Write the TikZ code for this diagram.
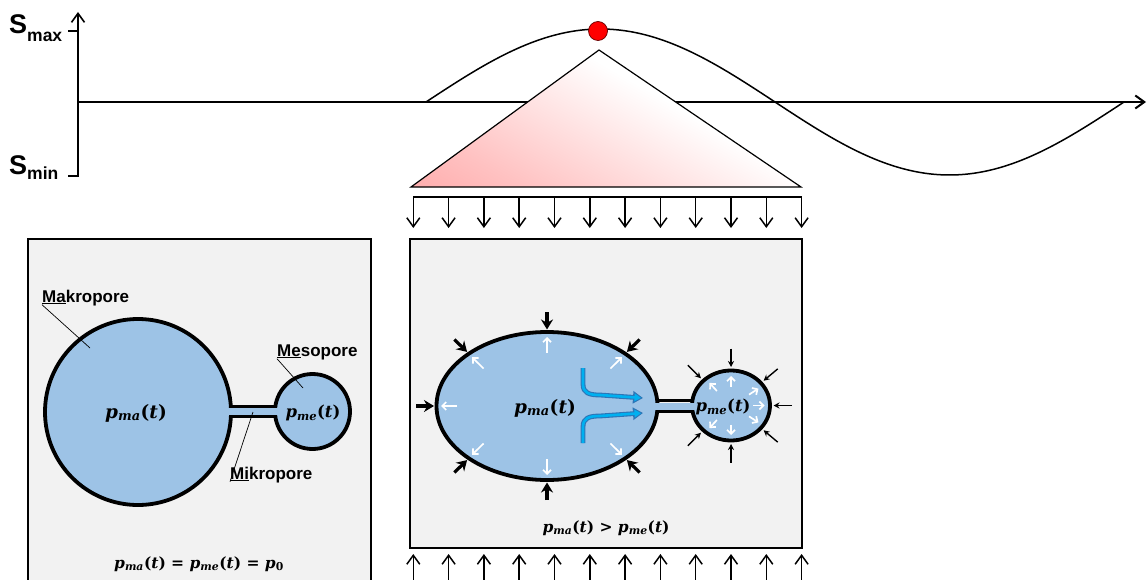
\RequirePackage{fix-cm}
\documentclass[tikz,border=0pt]{standalone}
\usepackage[no-math]{fontspec}
\setmainfont{Liberation Sans}
\newfontfamily\presfont{DejaVu Serif}
\usepackage{tikz}
\usetikzlibrary{positioning,shapes.geometric,calc}
\usetikzlibrary{arrows.meta}

\definecolor{poreblue}{HTML}{9DC3E6}
\definecolor{boxgray}{HTML}{F2F2F2}
\definecolor{flowcyan}{HTML}{00B0F0}
\definecolor{flowedge}{HTML}{2E75B6}
\pgfdeclareverticalshading{pinkfade}{100bp}{color(0bp)=(red!42); color(28bp)=(red!24); color(60bp)=(white); color(100bp)=(white)}

% pressure symbols p_x(t)
\newcommand{\pres}[2]{{\presfont\bfseries\itshape p\textsubscript{#1}\upshape(\itshape #2\upshape)}}
\newcommand{\pzero}{{\presfont\bfseries\itshape p\textsubscript{\upshape 0}}}

\begin{document}
\begin{tikzpicture}[
  x = 1pt, y = -1pt,
  box/.style = {draw, line width = 2.8pt, fill = boxgray},
  pore/.style = {draw, line width = 3.8pt, fill = poreblue, inner sep = 0pt},
  wall/.style = {line width = 3.2pt},
  tag/.style = {font = \fontsize{17}{20}\selectfont\bfseries, inner sep = 0pt},
  plabel/.style = {font = \fontsize{18.5}{22}\selectfont\presfont\bfseries, inner sep = 0pt},
  pmlabel/.style = {font = \fontsize{16.5}{20}\selectfont\presfont\bfseries, inner sep = 0pt},
  state/.style = {font = \fontsize{15.5}{19}\selectfont\presfont\bfseries, inner sep = 0pt},
  axis/.style = {line width = 1.6pt, -{Straight Barb[length = 9pt, width = 13pt]}},
  load/.style = {line width = 1.5pt, -{Straight Barb[length = 9pt, width = 13pt]}},
  squeeze/.style = {line width = 3.2pt, -{Stealth[length = 10pt, width = 12pt]}},
  pinch/.style = {line width = 1.4pt, -{Stealth[length = 6pt, width = 6pt]}},
  push/.style = {white, line width = 1.7pt, -{Straight Barb[length = 4pt, width = 8pt]}},
  flowout/.style = {line width = 4.8pt, flowedge, -{Triangle[length = 10pt, width = 12pt]}},
  flowin/.style = {line width = 2.6pt, flowcyan, shorten > = 2pt, -{Triangle[length = 6.5pt, width = 7.5pt]}},
]

  \useasboundingbox (0,0) rectangle (1147,580);
  \clip (0,0) rectangle (1147,580);

  % load signal
  \draw[axis] (78,177) -- (78,12);
  \draw[axis, line width = 2pt] (78,102) -- (1146,102);
  \draw[line width = 1.2pt] (68,31) -- (78,31);
  \draw[line width = 1.2pt] (68,176) -- (78,176);
  \node[anchor = base west, inner sep = 0pt] (smax) at (9,34)
    {\fontsize{27}{30}\selectfont\bfseries S\raisebox{-7.5pt}{\fontsize{17.5}{20}\selectfont max}};
  \node[anchor = base west, inner sep = 0pt] (smin) at (9,175)
    {\fontsize{27}{30}\selectfont\bfseries S\raisebox{-5pt}{\fontsize{17.5}{20}\selectfont min}};
  \draw[line width = 1.5pt] plot[domain = 426:1124, samples = 120, smooth]
    (\x, {102 - 73*sin((\x - 426)/698*360)});

  \shade[shading = pinkfade, shading angle = -30] (411,187) -- (599,50) -- (801,187) -- cycle;
  \draw[line width = 1.2pt] (411,187) -- (599,50) -- (801,187) -- cycle;
  \node[circle, fill = red, draw = red!40!black, line width = 0.7pt,
        minimum size = 19pt, inner sep = 0pt] (peak) at (598,31) {};

  \draw[line width = 1.5pt] (413.3,197) -- (801.7,197);
  \foreach \i in {0,...,11}
    \draw[load] ({413.3 + 35.3*\i},197) -- ({413.3 + 35.3*\i},228);
  \foreach \i in {0,...,11}
    \draw[load] ({413.3 + 35.3*\i},590) -- ({413.3 + 35.3*\i},554);

  % unloaded state
  \draw[box] (28,239) rectangle (371,620);
  \node[pore, circle, minimum size = 186pt] (makroL) at (138,412) {};
  \node[pore, circle, minimum size = 75pt] (mesoL) at (312.5,411.5) {};
  \fill[poreblue] (226,408) rectangle (280,415);
  \draw[wall] (229,406.3) -- (277,406.3);
  \draw[wall] (229,416.7) -- (277,416.7);
  \node[plabel] (pmaL) at (136,413) {\pres{ma}{t}};
  \node[pmlabel] (pmeL) at (313,413) {\pres{me}{t}};

  \node[tag, anchor = base west] (makrotag) at (42,302) {\underline{Ma}kropore};
  \node[tag, anchor = base west] (mesotag) at (277,356) {\underline{Me}sopore};
  \node[tag, anchor = base west] (mikrotag) at (230,479) {\underline{Mi}kropore};
  \coordinate (makropt) at (90,348);
  \coordinate (mesopt) at (303,388);
  \coordinate (mikropt) at (253,412);
  \draw[line width = 0.7pt] (makrotag.south west) ++(0,-1) -- (makropt);
  \draw[line width = 0.7pt] (mesotag.south west) ++(0,-1) -- (mesopt);
  \draw[line width = 0.7pt] (mikrotag.south west) ++(0,-1) -- (mikropt);

  \node[state] (eqL) at (199,564) {\pres{ma}{t} = \pres{me}{t} = \pzero};

  % loaded state
  \draw[box] (410,239) rectangle (802,548);
  \node[pore, ellipse, minimum width = 221pt, minimum height = 148pt] (makroR) at (547,406) {};
  \node[pore, ellipse, minimum width = 78pt, minimum height = 70pt] (mesoR) at (731,405.5) {};
  \fill[poreblue] (652,402.5) rectangle (697,409.5);
  \draw[wall] (656,400.8) -- (694,400.8);
  \draw[wall] (656,411.2) -- (694,411.2);

  \foreach \a in {90,-90,180,45,-45,135,-135}
    \draw[squeeze] ({547 + 131*cos(\a)},{406 + 94*sin(\a)})
      -- ({547 + 113*cos(\a)},{406 + 76.5*sin(\a)});
  \foreach \a in {90,-90,180,45,-45,135,-135}
    \draw[push] ({547 + 89.7*cos(\a)},{406 + 53*sin(\a)})
      -- ({547 + 106*cos(\a)},{406 + 69*sin(\a)});
  \foreach \a in {90,-90,0,40,-40,135,-135}
    \draw[pinch] ({731 + 61*cos(\a)},{405.5 + 57*sin(\a)})
      -- ({731 + 42.5*cos(\a)},{405.5 + 38.5*sin(\a)});
  \foreach \a in {90,-90,0,35,-35,130,-130}
    \draw[push] ({731 + 22*cos(\a)},{405.5 + 19*sin(\a)})
      -- ({731 + 33.5*cos(\a)},{405.5 + 29.5*sin(\a)});

  \draw[flowout] (583,368) -- (583,384) .. controls (583,393) and (589,395) .. (600,395) -- (643,398);
  \draw[flowin] (583,368) -- (583,384) .. controls (583,393) and (589,395) .. (600,395) -- (643,398);
  \draw[flowout] (583,443) -- (583,427) .. controls (583,418) and (589,416) .. (600,416) -- (643,413);
  \draw[flowin] (583,443) -- (583,427) .. controls (583,418) and (589,416) .. (600,416) -- (643,413);

  \node[plabel] (pmaR) at (545,408) {\pres{ma}{t}};
  \node[pmlabel] (pmeR) at (723,407) {\pres{me}{t}};
  \node[state] (eqR) at (606,528) {\pres{ma}{t} > \pres{me}{t}};
\end{tikzpicture}
\end{document}
